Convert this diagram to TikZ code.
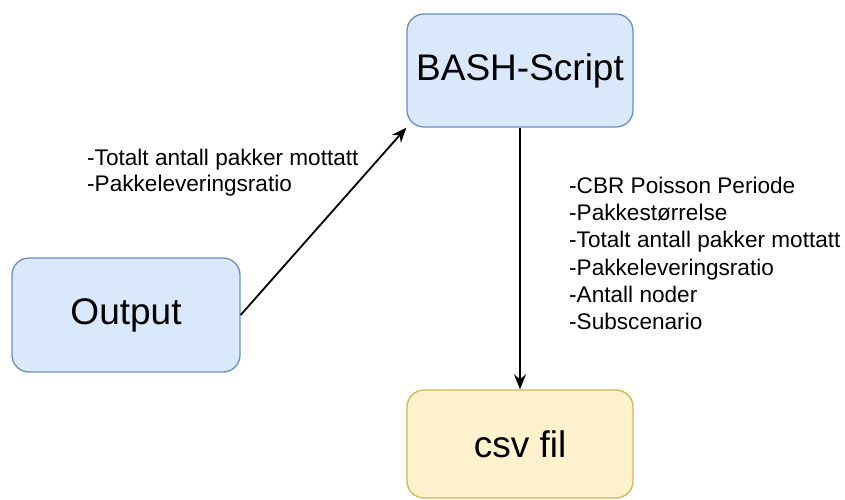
\documentclass[tikz,border=0pt]{standalone}
\usepackage{fontspec}
\setmainfont{Liberation Sans}
\usetikzlibrary{arrows.meta}
\definecolor{bluefill}{HTML}{DAE8FC}
\definecolor{bluedraw}{HTML}{6C8EBF}
\definecolor{yellowfill}{HTML}{FFF2CC}
\definecolor{yellowdraw}{HTML}{D6B656}
\tikzset{
  box/.style={rounded corners=17pt, line width=1.3pt, minimum width=226pt,
    minimum height=113pt, inner sep=0pt, font=\fontsize{37}{44}\selectfont},
  bluebox/.style={box, fill=bluefill, draw=bluedraw},
  yellowbox/.style={box, fill=yellowfill, draw=yellowdraw},
  conn/.style={line width=1.8pt, -{Stealth[length=15pt,width=12pt]}},
  lbl/.style={align=left, inner sep=0pt, anchor=north west,
    font=\fontsize{22.6}{27.2}\selectfont}
}
\begin{document}
\begin{tikzpicture}[x=1pt,y=-1pt]
  \useasboundingbox (0,0) rectangle (845,500);
  \node[bluebox] (bash) at (520,70.5) {BASH-Script};
  \node[bluebox, minimum width=228pt, minimum height=114pt] (out) at (126,315) {Output};
  \node[yellowbox, minimum height=108pt] (csv) at (520,444) {csv fil};
  \draw[conn] (out.east) -- (bash.south west);
  \draw[conn] (bash.south) -- (csv.north);
  \node[lbl, font=\fontsize{22.6}{25.5}\selectfont] (l1) at (87,149) {-Totalt antall pakker mottatt\\-Pakkeleveringsratio};
  \node[lbl] (l2) at (569,177) {-CBR Poisson Periode\\-Pakkestørrelse\\-Totalt antall pakker mottatt\\-Pakkeleveringsratio\\-Antall noder\\-Subscenario};
\end{tikzpicture}
\end{document}
